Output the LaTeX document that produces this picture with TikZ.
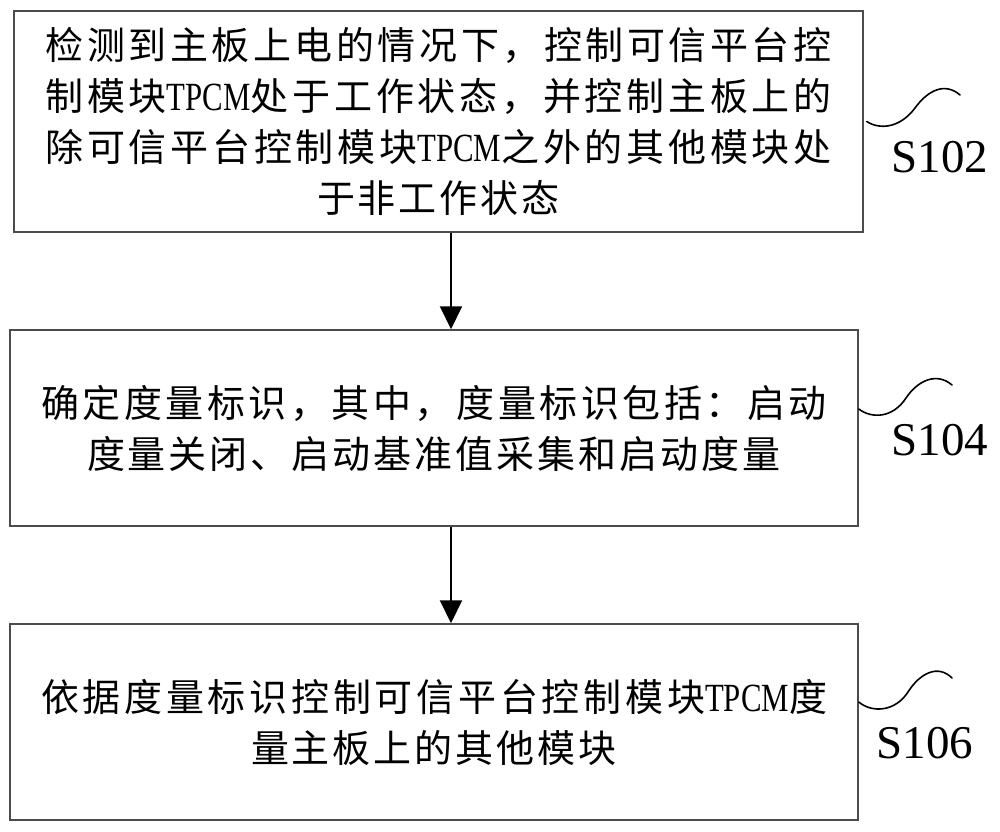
\documentclass[tikz,border=0pt]{standalone}
\usepackage{fontspec}
\usepackage{graphicx}
\setmainfont{Liberation Serif}
\newfontfamily\cjk{Noto Sans CJK SC}
\usetikzlibrary{arrows.meta}
\makeatletter
\count@="3000
\loop\ifnum\count@<"A000 \XeTeXcharclass\count@=7 \advance\count@\@ne\repeat
\count@="FF00
\loop\ifnum\count@<"FFF0 \XeTeXcharclass\count@=7 \advance\count@\@ne\repeat
\makeatother
\XeTeXinterchartoks 7 7 = {\hskip 3pt plus 1fil minus 3pt\relax}
\XeTeXinterchartokenstate=1
\newcommand\JLine[1]{\makebox[786pt][s]{#1}}
\newcommand\NLine[1]{\makebox{#1}}
\newcommand\TPCM{\scalebox{0.77}[1]{\rmfamily\fontsize{40}{51}\selectfont TPCM}}
\tikzset{
  stepbox/.style={draw=black!70, line width=1.5pt, rectangle, inner sep=0pt,
    align=center, font=\cjk\fontsize{38}{51}\selectfont},
  arr/.style={line width=2pt, -{Triangle[length=23pt,width=22pt]}},
  squig/.style={line width=1.6pt, line cap=round},
  lab/.style={font=\fontsize{47}{56}\selectfont, inner sep=0pt}
}
\begin{document}
\begin{tikzpicture}[x=1pt,y=-1pt]
\useasboundingbox (0,0) rectangle (1000,831);
\fill[white] (0,0) rectangle (1000,831);
\node[stepbox, minimum width=849pt, minimum height=221pt] (b1) at (438.5,121.5)
  {\JLine{检测到主板上电的情况下，控制可信平台控}\\
   \JLine{制模块\TPCM 处于工作状态，并控制主板上的}\\
   \JLine{除可信平台控制模块\TPCM 之外的其他模块处}\\
   \NLine{于非工作状态}};
\node[stepbox, minimum width=848pt, minimum height=196pt] (b2) at (434,428)
  {\JLine{确定度量标识，其中，度量标识包括：启动}\\
   \NLine{度量关闭、启动基准值采集和启动度量}};
\node[stepbox, minimum width=848pt, minimum height=196pt] (b3) at (434,722)
  {\JLine{依据度量标识控制可信平台控制模块\TPCM 度}\\
   \NLine{量主板上的其他模块}};
\coordinate (ax) at (451,0);
\draw[arr] (b1.south -| ax) -- (b2.north -| ax);
\draw[arr] (b2.south -| ax) -- (b3.north -| ax);
\node[lab] (l1) at (940,157) {S102};
\node[lab] (l2) at (940,440) {S104};
\node[lab] (l3) at (925,743.5) {S106};
\draw[squig] ([xshift=3pt]b1.east) .. controls (880,130) and (900,128) .. (915,108)
  .. controls (928,90) and (945,82) .. (960,95);
\draw[squig] ([yshift=19pt]b2.east) .. controls (872,419) and (893,418) .. (906,398)
  .. controls (918,380) and (937,372) .. (952,385);
\draw[squig] ([yshift=20pt]b3.east) .. controls (872,713) and (895,712) .. (908,692)
  .. controls (920,673) and (938,664) .. (952,678);
\end{tikzpicture}
\end{document}
